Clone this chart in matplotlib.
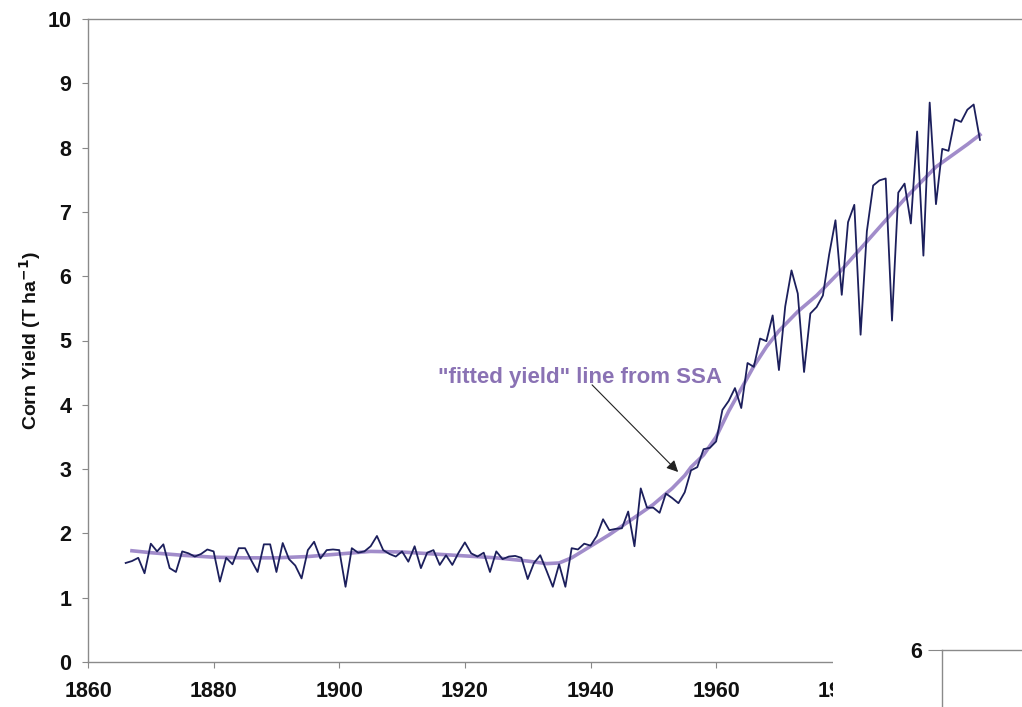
import matplotlib
matplotlib.use("Agg")
import matplotlib.pyplot as plt
from matplotlib.patches import Rectangle

plt.rcParams['font.family'] = ['Liberation Sans', 'DejaVu Sans']

# Annual corn yield (T/ha)
years = list(range(1866, 2003))
yield_t_ha = [
    1.54, 1.57, 1.62, 1.38, 1.84, 1.72, 1.83, 1.46, 1.40, 1.72,   # 1866-1875
    1.69, 1.64, 1.68, 1.75, 1.72, 1.25, 1.62, 1.52, 1.77, 1.77,   # 1876-1885
    1.58, 1.40, 1.83, 1.83, 1.40, 1.85, 1.60, 1.50, 1.30, 1.74,   # 1886-1895
    1.87, 1.61, 1.74, 1.75, 1.74, 1.17, 1.77, 1.70, 1.72, 1.80,   # 1896-1905
    1.96, 1.74, 1.68, 1.64, 1.72, 1.56, 1.80, 1.46, 1.70, 1.74,   # 1906-1915
    1.51, 1.66, 1.51, 1.70, 1.86, 1.69, 1.64, 1.70, 1.40, 1.72,   # 1916-1925
    1.60, 1.64, 1.65, 1.62, 1.29, 1.54, 1.66, 1.42, 1.17, 1.52,   # 1926-1935
    1.17, 1.77, 1.75, 1.84, 1.81, 1.96, 2.22, 2.05, 2.07, 2.08,   # 1936-1945
    2.34, 1.80, 2.70, 2.40, 2.40, 2.32, 2.62, 2.55, 2.47, 2.64,   # 1946-1955
    2.98, 3.03, 3.31, 3.33, 3.43, 3.92, 4.06, 4.26, 3.95, 4.65,   # 1956-1965
    4.59, 5.03, 4.99, 5.39, 4.54, 5.53, 6.09, 5.73, 4.51, 5.42,   # 1966-1975
    5.52, 5.70, 6.34, 6.87, 5.71, 6.84, 7.11, 5.09, 6.70, 7.41,   # 1976-1985
    7.49, 7.52, 5.31, 7.30, 7.44, 6.82, 8.25, 6.32, 8.70, 7.12,   # 1986-1995
    7.98, 7.95, 8.44, 8.40, 8.59, 8.67, 8.12,                     # 1996-2002
]

# Smoothed "fitted yield" trend from SSA
fit_years = [1867, 1870, 1875, 1880, 1885, 1890, 1895, 1900, 1905, 1910,
             1915, 1920, 1925, 1930, 1933, 1935, 1937, 1940, 1943, 1946,
             1950, 1953, 1955, 1956, 1958, 1960, 1962, 1964, 1966, 1968,
             1970, 1973, 1976, 1980, 1985, 1990, 1995, 2000, 2002]
fit_values = [1.73, 1.70, 1.66, 1.63, 1.62, 1.62, 1.64, 1.68, 1.72, 1.71,
              1.68, 1.65, 1.62, 1.57, 1.53, 1.54, 1.62, 1.80, 1.98, 2.18,
              2.45, 2.70, 2.90, 3.03, 3.22, 3.50, 3.90, 4.25, 4.60, 4.90,
              5.15, 5.45, 5.70, 6.10, 6.65, 7.20, 7.70, 8.05, 8.20]

x_ticks = [1860, 1880, 1900, 1920, 1940, 1960, 1980, 2000]
y_ticks = list(range(0, 11))

W, H = 1022, 707
fig = plt.figure(figsize=(W / 100, H / 100), dpi=100, facecolor='white')

# main axes (extends past the right edge of the canvas)
left_px, right_px, bottom_px, top_px = 88, 1093, 662, 19
ax = fig.add_axes([left_px / W, (H - bottom_px) / H,
                   (right_px - left_px) / W, (bottom_px - top_px) / H])
ax.set_xlim(1860, 2020)
ax.set_ylim(0, 10)

ax.plot(years, yield_t_ha, color='#1c1f5c', lw=1.3, zorder=3)
ax.plot(fit_years, fit_values, color='#9c86c8', lw=2.6, alpha=0.95, zorder=2)

ax.set_xticks(x_ticks)
ax.set_yticks(y_ticks)
ax.tick_params(axis='both', direction='out', length=4, width=0.8,
               colors='#888888', labelcolor='#111111', labelsize=15.5)
for lab in ax.get_xticklabels() + ax.get_yticklabels():
    lab.set_fontweight('bold')
ax.tick_params(axis='x', pad=10)
ax.tick_params(axis='y', pad=8)

for side in ['left', 'bottom', 'top']:
    ax.spines[side].set_color('#8a8a8a')
    ax.spines[side].set_linewidth(1.0)
ax.spines['right'].set_visible(False)

ax.set_ylabel('Corn Yield (T ha$^{\\mathbf{-1}}$)', fontsize=14,
              fontweight='bold', color='#111111', labelpad=3)

ax.text(1938.3, 4.43, '"fitted yield" line from SSA',
        fontsize=16, fontweight='bold', color='#8a72b4',
        ha='center', va='center')
ax.annotate('', xy=(1953.95, 2.955), xytext=(1940.25, 4.31),
            arrowprops=dict(arrowstyle='-|>', color='#222222', lw=0.8,
                            mutation_scale=17, shrinkA=0, shrinkB=0))

# white panel holding the corner of the neighbouring chart
fig.add_artist(Rectangle((833 / W, 0), (W - 833) / W, (H - 618) / H,
                         transform=fig.transFigure, facecolor='white',
                         edgecolor='none', zorder=5))
ax2 = fig.add_axes([942 / W, (H - 650 - 300) / H, 200 / W, 300 / H])
ax2.set_zorder(6)
ax2.set_ylim(0, 6)
ax2.set_xlim(0, 1)
ax2.set_yticks([6])
ax2.set_xticks([])
ax2.tick_params(axis='y', direction='out', length=10, width=0.8,
                colors='#888888', labelcolor='#111111', labelsize=15.5, pad=4)
for lab in ax2.get_yticklabels():
    lab.set_fontweight('bold')
for side in ['left', 'top']:
    ax2.spines[side].set_color('#8a8a8a')
    ax2.spines[side].set_linewidth(1.0)
ax2.spines['right'].set_visible(False)
ax2.spines['bottom'].set_visible(False)

fig.savefig('out.png', dpi=100, facecolor='white')
